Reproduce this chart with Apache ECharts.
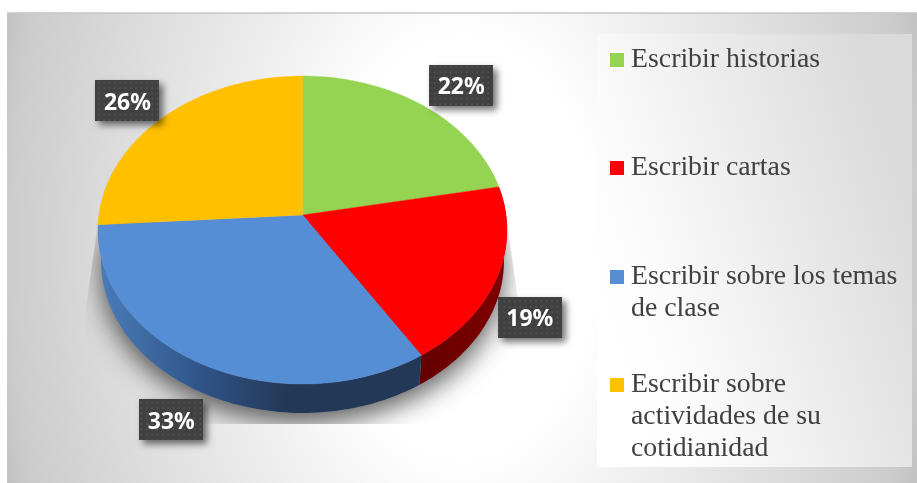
<!DOCTYPE html>
<html><head><meta charset="utf-8">
<style>html,body{margin:0;padding:0;background:#fff}#c{width:917px;height:483px}</style>
<script src="https://cdn.jsdelivr.net/npm/echarts@6/dist/echarts.min.js"></script>
</head><body><div id="c"></div>
<script>
var categories = ['Escribir historias','Escribir cartas','Escribir sobre los temas de clase','Escribir sobre actividades de su cotidianidad'];
var shares = [22,19,33,26];
var labels = ['22%','19%','33%','26%'];
var legendLines = [['Escribir historias'],['Escribir cartas'],['Escribir sobre los temas','de clase'],['Escribir sobre','actividades de su','cotidianidad']];
var colors = ['#95d452','#ff0000','#558ed5','#ffc000'];

// tilted-disc projection (layout, not data)
var PIE = {cx:302.5, cy:215, R:203.5, a:131.6, c:-0.0974, depth:31.5, shrink:0.985};
var LABEL_OFFSET = [[38,-20.5],[33,39],[-30,56],[-36,-16.5]];
var LEGEND_CENTER = [58,166,275,383];

function top3d(deg){
  var t=deg*Math.PI/180,u=Math.sin(t),v=-Math.cos(t),d=PIE.c*v+1;
  return [PIE.cx+PIE.R*u/d,(PIE.a*v+PIE.cy)/d];
}
function bottom3d(deg){
  var p=top3d(deg);
  return [PIE.cx+(p[0]-PIE.cx)*PIE.shrink,PIE.cy+(p[1]-PIE.cy)*PIE.shrink+PIE.depth];
}
function arc(fn,a,b){
  var pts=[],n=Math.max(2,Math.ceil(Math.abs(b-a)/1.5));
  for(var i=0;i<=n;i++)pts.push(fn(a+(b-a)*i/n));
  return pts;
}
var total=shares.reduce(function(s,v){return s+v},0);
var starts=[],acc=0;
shares.forEach(function(v){starts.push(acc/total*360);acc+=v;});

var pat=document.createElement('canvas');pat.width=16;pat.height=16;
(function(){var g=pat.getContext('2d');g.fillStyle='#404040';g.fillRect(0,0,16,16);g.fillStyle='#565656';
 [2,7.33,12.67].forEach(function(x){[2,7.33,12.67].forEach(function(y){g.fillRect(x,y,1.6,1.6);});});})();

var wallFill=[
 null,
 new echarts.graphic.LinearGradient(424,0,505,0,[{offset:0,color:'#650000'},{offset:1,color:'#800000'}],true),
 new echarts.graphic.LinearGradient(100,0,285,0,[{offset:0,color:'#4a7cb8'},{offset:.55,color:'#2f5487'},{offset:1,color:'#233857'}],true),
 null
];

function renderSlice(i){
  return function(params,api){
    var a=starts[i], b=a+api.value(0)/total*360, kids=[];
    var wa=Math.max(a,72), wb=Math.min(b,288);
    if(wb>wa){
      var w=arc(top3d,wa,wb).concat(arc(bottom3d,wb,wa));
      kids.push({type:'polygon',z2:1,shape:{points:w},style:{fill:wallFill[i]||colors[i]}});
    }
    var poly=[[PIE.cx,PIE.cy]].concat(arc(top3d,a,b));
    kids.push({type:'polygon',z2:10,shape:{points:poly},style:{fill:colors[i],stroke:colors[i],lineWidth:.4}});
    var rim=top3d((a+b)/2), off=LABEL_OFFSET[i];
    var lx=rim[0]+off[0], ly=rim[1]+off[1];
    kids.push({type:'rect',z2:20,shape:{x:Math.round(lx-32),y:Math.round(ly-20.5),width:64,height:41},
      style:{fill:{image:pat,repeat:'repeat'},shadowBlur:7,shadowColor:'rgba(0,0,0,.55)',shadowOffsetX:4,shadowOffsetY:4}});
    kids.push({type:'text',z2:21,style:{text:labels[i],x:lx,y:ly+2.5,align:'center',verticalAlign:'middle',fill:'#fff',
      font:'bold 23px "Noto Sans"'}});
    return {type:'group',children:kids};
  };
}
function renderShadow(){
  var pts=arc(bottom3d,80,280);
  return {type:'polygon',z2:0,shape:{points:pts},
    clipPath:{type:'polygon',shape:{points:[[98,222],[85,315],[85,424],[600,424],[600,340],[518,300],[507,222]]}},
    style:{fill:'#999999',shadowBlur:26,shadowColor:'rgba(0,0,0,.62)',shadowOffsetY:10}};
}

var series=categories.map(function(name,i){
  return {type:'custom',name:name,coordinateSystem:'none',silent:true,animation:false,
    itemStyle:{color:colors[i]},data:[[shares[i]]],renderItem:renderSlice(i)};
});
series.push({type:'custom',name:'sombra',coordinateSystem:'none',silent:true,animation:false,data:[[0]],renderItem:renderShadow});

var legends=categories.map(function(name,i){
  var n=legendLines[i].length, blanks=n-1, rows=n+blanks;
  return {data:[name],show:true,left:610,top:LEGEND_CENTER[i]-rows*16,padding:0,orient:'vertical',
    icon:'rect',itemWidth:14,itemHeight:14,itemGap:0,selectedMode:false,
    formatter:function(){var s='';for(var k=0;k<blanks;k++)s+=' \n';return s+legendLines[i].join('\n');},
    textStyle:{fontFamily:'"Liberation Serif"',fontSize:27.8,lineHeight:32,color:'#404040',padding:[4,0,0,2]}};
});

var chart=echarts.init(document.getElementById('c'),null,{renderer:'canvas'});
chart.setOption({
  animation:false,
  graphic:{elements:[
    {type:'rect',z:0,silent:true,originX:462,originY:248,scaleY:1.54,
      shape:{x:7,y:248-152.6,width:910,height:305.2},
      style:{fill:new echarts.graphic.RadialGradient(.5,.5,1.64,[
        {offset:0,color:'#ffffff'},{offset:.27,color:'#ffffff'},{offset:.44,color:'#f0f0f0'},{offset:.91,color:'#cccccc'},{offset:1,color:'#b8b8b8'}])}},
    {type:'rect',z:0,silent:true,shape:{x:597,y:34,width:315,height:433},
      style:{fill:new echarts.graphic.LinearGradient(0,.62,1,.38,[
        {offset:0,color:'#ffffff'},{offset:.2,color:'#fbfbfb'},{offset:1,color:'#dadada'}])}},
    {type:'line',z:0,silent:true,shape:{x1:7,y1:13,x2:917,y2:13},style:{stroke:'#c6c6c6',lineWidth:1.5}}
  ]},
  legend:legends,
  series:series
});
</script></body></html>
